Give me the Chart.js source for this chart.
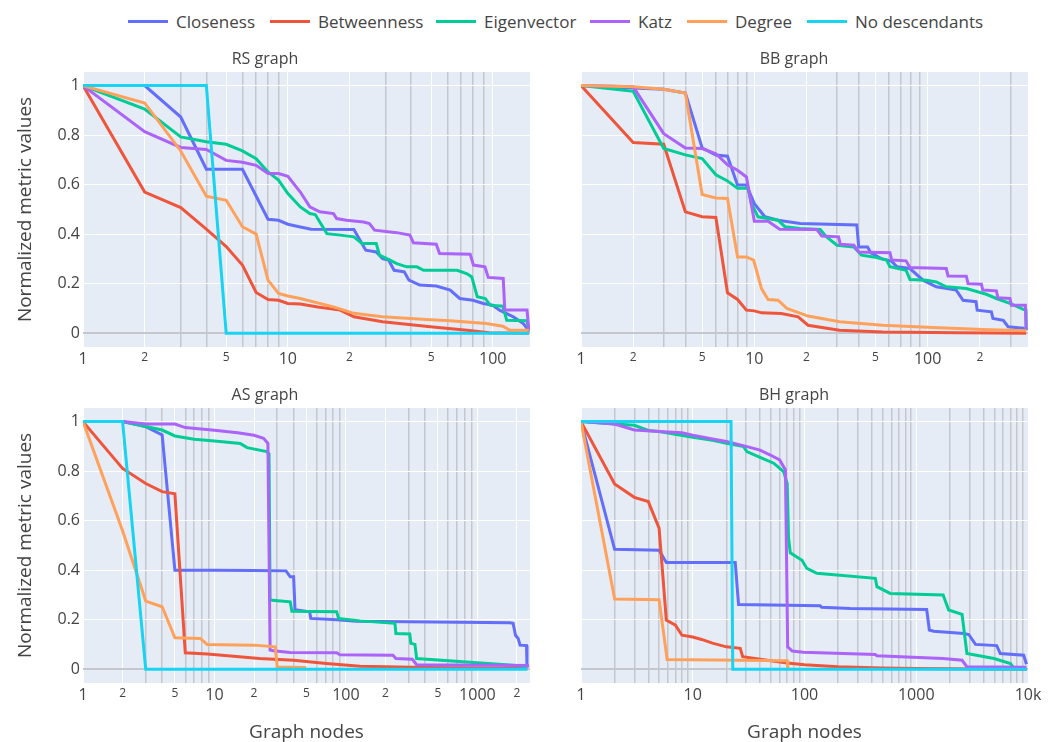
<!DOCTYPE html>
<html>
<head>
<meta charset="utf-8">
<script src="https://cdn.jsdelivr.net/npm/chart.js@4.4.1/dist/chart.umd.min.js"></script>
<style>
    body { margin: 0; background: #fff; width: 1056px; height: 742px; position: relative; overflow: hidden; font-family: "Open Sans", sans-serif; color: #444; }
    canvas { position: absolute; }
    .voce { position: absolute; top: 10px; display: flex; align-items: center; font-size: 17px; white-space: nowrap; }
    .linea { display: inline-block; width: 40px; height: 3px; margin-right: 8px; }
</style>
</head>
<body>
<div id="legenda"></div>
<canvas id="graficoRS" width="560" height="336" style="left:0;top:40px"></canvas>
<canvas id="graficoBB" width="496" height="336" style="left:560px;top:40px"></canvas>
<canvas id="graficoAS" width="560" height="366" style="left:0;top:376px"></canvas>
<canvas id="graficoBH" width="496" height="366" style="left:560px;top:376px"></canvas>
<script>
///////////////////////////////////////////////// Dati //////////////////////////////////////////////
const nomiSerie = ["Closeness", "Betweenness", "Eigenvector", "Katz", "Degree", "No descendants"];
const colori = ["#636efa", "#EF553B", "#00cc96", "#ab63fa", "#FFA15A", "#19d3f3"];

const yTickVal = [0, 0.2, 0.4, 0.6, 0.8, 1];
const yTickTesto = ["0", "0.2", "0.4", "0.6", "0.8", "1"];

// RS graph
const rsTickVal = [1, 2, 5, 10, 20, 50, 100];
const rsTickTesto = ["1", "2", "5", "10", "2", "5", "100"];
const rsCloseness = [[1,1],[2,1],[3,0.873],[4,0.662],[6,0.662],[8,0.46],[9,0.456],[10,0.44],[11.5,0.429],[13,0.42],[21,0.419],[22,0.389],[24,0.335],[27,0.328],[29,0.301],[31,0.295],[33,0.254],[37,0.248],[39,0.214],[44,0.194],[53,0.19],[62,0.174],[69,0.14],[80,0.133],[90,0.12],[100,0.113],[108,0.093],[126,0.066],[141,0.039],[147,0.019],[150,0.005]];
const rsBetweenness = [[1,1],[2,0.57],[3,0.507],[4,0.42],[5,0.35],[6,0.275],[7,0.164],[8,0.136],[9,0.133],[10,0.12],[11.5,0.118],[14,0.106],[18,0.093],[21,0.066],[29,0.046],[51,0.025],[75,0.012],[96,0.002],[150,0]];
const rsEigenvector = [[1,1],[2,0.905],[3,0.793],[4,0.773],[5,0.763],[6,0.736],[7,0.705],[8,0.651],[9,0.618],[10,0.564],[11.5,0.51],[12.8,0.483],[13.6,0.479],[15.5,0.402],[18,0.396],[21,0.389],[23,0.362],[27,0.362],[28,0.315],[31.5,0.295],[34,0.281],[38,0.268],[42.6,0.268],[46,0.254],[67,0.254],[75,0.24],[79,0.227],[84,0.147],[92,0.14],[97,0.113],[112,0.109],[117,0.052],[147,0.05],[150,0.012]];
const rsKatz = [[1,1],[2,0.814],[3,0.75],[4,0.742],[5,0.698],[6,0.69],[7,0.678],[8,0.645],[9,0.645],[10,0.634],[11.5,0.57],[12.8,0.51],[14.3,0.49],[16.7,0.483],[17.3,0.463],[19.3,0.456],[23.4,0.449],[25,0.443],[26.5,0.416],[34,0.406],[39.4,0.396],[41,0.365],[53,0.359],[55,0.322],[77.6,0.319],[80.5,0.275],[91.6,0.268],[95,0.225],[112.5,0.221],[114.5,0.093],[147,0.093],[150,0.012]];
const rsDegree = [[1,1],[2,0.93],[3,0.736],[4,0.553],[5,0.537],[6,0.43],[7,0.4],[8,0.214],[9,0.16],[10,0.15],[11.5,0.14],[16.7,0.106],[21,0.08],[29,0.066],[47.5,0.055],[62,0.05],[93,0.039],[112,0.028],[121,0.012],[150,0.012]];
const rsNoDesc = [[1,1],[2,1],[3,1],[4,1],[5,0],[150,0]];

// BB graph
const bbTickVal = [1, 2, 5, 10, 20, 50, 100, 200];
const bbTickTesto = ["1", "2", "5", "10", "2", "5", "100", "2"];
const bbCloseness = [[1,1],[2,0.99],[3,0.985],[4,0.97],[5,0.748],[6,0.72],[7,0.715],[8,0.598],[9,0.598],[10,0.523],[11.5,0.47],[13.7,0.456],[18.4,0.443],[39,0.437],[40,0.348],[45,0.348],[47,0.324],[54,0.301],[62,0.29],[66.5,0.268],[79,0.261],[94,0.214],[112,0.187],[146,0.174],[160,0.133],[190,0.127],[193,0.093],[233,0.086],[238,0.059],[273,0.052],[291,0.026],[356,0.02],[370,0.012]];
const bbBetweenness = [[1,1],[2,0.77],[3,0.763],[4,0.49],[5,0.47],[6,0.467],[7,0.163],[8,0.136],[9,0.093],[10,0.09],[11,0.082],[14.3,0.079],[17.9,0.066],[20.4,0.032],[31,0.012],[55,0.005],[150,0.002],[370,0]];
const bbEigenvector = [[1,1],[2,0.977],[3,0.746],[4,0.72],[5,0.705],[6,0.64],[7,0.615],[8,0.585],[9.2,0.585],[9.6,0.525],[10.5,0.47],[13.7,0.456],[15,0.43],[18.4,0.423],[24,0.419],[26,0.39],[30,0.355],[37.5,0.348],[41.5,0.315],[48.6,0.308],[58,0.295],[60.6,0.268],[75,0.254],[79,0.217],[98.5,0.214],[112,0.207],[128,0.187],[167,0.18],[218,0.157],[249,0.14],[298,0.12],[356,0.096],[369,0.093],[370,0.012]];
const bbKatz = [[1,1],[2,0.995],[3,0.806],[4,0.748],[5,0.746],[6,0.725],[7,0.68],[8,0.658],[9,0.631],[10,0.452],[12,0.452],[14,0.42],[22.9,0.419],[24.5,0.392],[30.6,0.389],[31.3,0.359],[37.5,0.355],[40,0.328],[60.6,0.325],[62,0.295],[75,0.292],[79,0.265],[128,0.261],[131,0.231],[167,0.23],[171,0.2],[204,0.198],[208,0.174],[249,0.171],[254,0.143],[298,0.14],[304,0.113],[366,0.113],[370,0.012]];
const bbDegree = [[1,1],[2,0.995],[3,0.985],[4,0.97],[5,0.56],[6,0.546],[7,0.544],[8,0.308],[9,0.308],[9.9,0.295],[11,0.18],[12,0.136],[13.7,0.133],[15.4,0.1],[17.5,0.086],[20.4,0.069],[31,0.046],[55,0.032],[107,0.023],[209,0.015],[370,0.01]];
const bbNoDesc = [];

// AS graph
const asTickVal = [1, 2, 5, 10, 20, 50, 100, 200, 500, 1000, 2000];
const asTickTesto = ["1", "2", "5", "10", "2", "5", "100", "2", "5", "1000", "2"];
const asCloseness = [[1,1],[2,1],[3,0.98],[4,0.946],[5,0.4],[10,0.4],[20,0.398],[35,0.397],[37.7,0.373],[40,0.373],[41,0.24],[53,0.232],[54,0.205],[85,0.2],[121,0.193],[1760,0.187],[1871,0.185],[1950,0.137],[2043,0.124],[2111,0.097],[2365,0.095],[2384,0.01]];
const asBetweenness = [[1,1],[2,0.811],[3,0.75],[4,0.717],[5,0.708],[6,0.066],[8.8,0.061],[12,0.055],[22,0.043],[40,0.036],[71,0.023],[128,0.012],[410,0.007],[2400,0.003]];
const asEigenvector = [[1,1],[2,1],[3,0.98],[4,0.966],[5,0.942],[7,0.929],[10,0.922],[15.7,0.912],[17.7,0.895],[25,0.879],[26,0.87],[26.5,0.279],[37.7,0.272],[38.8,0.234],[85,0.232],[88,0.205],[128,0.195],[236,0.185],[240,0.144],[306,0.142],[312,0.104],[335,0.1],[345,0.043],[1870,0.016],[2400,0.01]];
const asKatz = [[1,1],[2,1],[3,0.99],[4,0.99],[5,0.99],[6,0.976],[10,0.965],[15,0.955],[20,0.945],[23.6,0.933],[25.5,0.912],[26.5,0.077],[28,0.074],[37.7,0.067],[85,0.066],[90,0.058],[228,0.056],[240,0.043],[320,0.04],[345,0.018],[2400,0.015],[2410,0.007]];
const asDegree = [[1,1],[2,0.559],[3,0.275],[4,0.252],[5,0.127],[7.8,0.124],[8.8,0.1],[20,0.097],[29,0.09],[30,0.009],[50,0.007]];
const asNoDesc = [[1,1],[2,1],[3,0],[2400,0]];

// BH graph
const bhTickVal = [1, 10, 100, 1000, 10000];
const bhTickTesto = ["1", "10", "100", "1000", "10k"];
const bhCloseness = [[1,1],[2,0.484],[5,0.48],[5.8,0.431],[24,0.431],[25.7,0.261],[138,0.256],[142,0.25],[257,0.245],[1240,0.241],[1310,0.158],[1430,0.153],[2670,0.144],[2950,0.14],[3390,0.1],[5250,0.095],[5650,0.063],[9150,0.056],[9700,0.02]];
const bhBetweenness = [[1,1],[2,0.748],[3,0.694],[4,0.677],[5,0.569],[5.8,0.198],[7,0.178],[8,0.137],[10,0.13],[12,0.12],[15,0.105],[20,0.09],[26.6,0.084],[28,0.05],[40,0.04],[70,0.025],[100,0.018],[200,0.01],[500,0.005],[1000,0.003],[9700,0]];
const bhEigenvector = [[1,1],[2,0.99],[3,0.985],[4,0.964],[5,0.96],[10,0.937],[15,0.925],[20,0.912],[28.5,0.899],[30.5,0.879],[40,0.856],[53,0.832],[65,0.798],[70,0.75],[72,0.53],[74.6,0.47],[95,0.44],[105,0.407],[129,0.387],[430,0.367],[445,0.333],[585,0.306],[1740,0.3],[1950,0.239],[2570,0.221],[2840,0.063],[4960,0.043],[6960,0.023],[7450,0.005],[9700,0]];
const bhKatz = [[1,1],[2,0.99],[3,0.966],[5,0.96],[8,0.955],[10,0.945],[15,0.93],[20,0.92],[30,0.9],[40,0.885],[49.5,0.865],[60,0.845],[67.5,0.805],[70.7,0.09],[77.7,0.073],[97.5,0.068],[430,0.059],[445,0.054],[1740,0.043],[2570,0.036],[2840,0.01],[9700,0.008]];
const bhDegree = [[1,1],[2,0.283],[5,0.28],[5.9,0.039],[70,0.034],[71,0]];
const bhNoDesc = [[1,1],[22,1],[22.8,0],[9700,0]];


///////////////////////////////////////////////// Stile comune //////////////////////////////////////////////
const font = '"Open Sans", sans-serif';
const coloreTesto = "#444";
const grigliaGrigia = "#c6c6ce";
Chart.defaults.font.family = font;
Chart.defaults.color = coloreTesto;

const posLegenda = [128, 270, 436, 590, 687, 807];
const legenda = document.getElementById("legenda");
nomiSerie.forEach((nome, i) => {
    const voce = document.createElement("div");
    voce.className = "voce";
    voce.style.left = posLegenda[i] + "px";
    voce.innerHTML = `<span class="linea" style="background:${colori[i]}"></span>${nome}`;
    legenda.appendChild(voce);
});

const sfondoArea = {
    id: "sfondoArea",
    beforeDraw(chart) {
        const { ctx, chartArea: a } = chart;
        ctx.save();
        ctx.fillStyle = "#E5ECF6";
        ctx.fillRect(a.left, a.top, a.width, a.height);
        ctx.restore();
    }
};

const potenzaDi10 = (v) => Math.abs(Math.log10(v) - Math.round(Math.log10(v))) < 1e-9;


///////////////////////////////////////// GRAFICO LOG ////////////////////////////////////////
const creaGrafico = function (idCanvas, g) {
    const datasets = [];
    g.serie.forEach((punti, i) => {
        if (punti.length === 0) return;
        datasets.push({
            label: nomiSerie[i],
            data: punti.map(p => ({ x: p[0], y: p[1] })),
            borderColor: colori[i],
            borderWidth: 3,
            pointRadius: 0,
            tension: 0,
            fill: false,
            order: nomiSerie.length - i,
        });
    });

    new Chart(document.getElementById(idCanvas), {
        type: "line",
        data: { datasets: datasets },
        options: {
            responsive: false,
            animation: false,
            events: [],
            layout: { padding: { left: 0, right: g.sinistra ? 30 : 28, top: 0, bottom: 0 } },
            plugins: {
                legend: { display: false },
                tooltip: { enabled: false },
                title: {
                    display: true,
                    text: g.titolo,
                    color: coloreTesto,
                    font: { family: font, size: 16, weight: "normal" },
                    padding: { top: 10, bottom: 2.8 },
                },
            },
            scales: {
                x: {
                    type: "logarithmic",
                    min: 1,
                    max: g.xMax,
                    afterBuildTicks: (scala) => {
                        const tick = [];
                        for (let dec = 1; dec <= scala.max; dec *= 10) {
                            for (let m = 1; m <= 9; m++) {
                                const v = m * dec;
                                if (v >= scala.min && v <= scala.max) tick.push({ value: v });
                            }
                        }
                        scala.ticks = tick;
                    },
                    afterFit: (scala) => { scala.height = g.basso ? 59 : 29; },
                    border: { display: false },
                    grid: {
                        drawTicks: false,
                        lineWidth: (ctx) => g.tickVal.includes(ctx.tick.value) ? 1 : 1.5,
                        color: (ctx) => g.tickVal.includes(ctx.tick.value) ? "#ffffff" : grigliaGrigia,
                    },
                    ticks: {
                        autoSkip: false,
                        maxRotation: 0,
                        minRotation: 0,
                        padding: 3,
                        color: coloreTesto,
                        font: (ctx) => ({ family: font, size: ctx.tick && potenzaDi10(ctx.tick.value) ? 16 : 12 }),
                        callback: (v) => {
                            const k = g.tickVal.indexOf(v);
                            return k >= 0 ? g.tickTesto[k] : "";
                        },
                    },
                    title: {
                        display: g.basso,
                        text: "Graph nodes",
                        color: coloreTesto,
                        font: { family: font, size: 19 },
                        padding: { top: 0, bottom: -2 },
                    },
                },
                y: {
                    min: -0.056,
                    max: 1.055,
                    afterBuildTicks: (scala) => { scala.ticks = yTickVal.map(v => ({ value: v })); },
                    afterFit: (scala) => { scala.width = g.sinistra ? 83 : 21; },
                    border: { display: false },
                    grid: {
                        drawTicks: false,
                        color: (ctx) => ctx.tick.value === 0 ? grigliaGrigia : "#ffffff",
                        lineWidth: (ctx) => ctx.tick.value === 0 ? 2 : 1,
                    },
                    ticks: {
                        display: g.sinistra,
                        padding: 3,
                        color: coloreTesto,
                        font: { family: font, size: 16 },
                        callback: (v) => {
                            const k = yTickVal.indexOf(v);
                            return k >= 0 ? yTickTesto[k] : "";
                        },
                    },
                    title: {
                        display: g.sinistra,
                        text: "Normalized metric values",
                        color: coloreTesto,
                        font: { family: font, size: 19 },
                        padding: { top: 14, bottom: 0 },
                    },
                },
            },
        },
        plugins: [sfondoArea],
    });
};

creaGrafico("graficoRS", { titolo: "RS graph", xMax: 152, tickVal: rsTickVal, tickTesto: rsTickTesto, sinistra: true, basso: false,
    serie: [rsCloseness, rsBetweenness, rsEigenvector, rsKatz, rsDegree, rsNoDesc] });
creaGrafico("graficoBB", { titolo: "BB graph", xMax: 379, tickVal: bbTickVal, tickTesto: bbTickTesto, sinistra: false, basso: false,
    serie: [bbCloseness, bbBetweenness, bbEigenvector, bbKatz, bbDegree, bbNoDesc] });
creaGrafico("graficoAS", { titolo: "AS graph", xMax: 2513, tickVal: asTickVal, tickTesto: asTickTesto, sinistra: true, basso: true,
    serie: [asCloseness, asBetweenness, asEigenvector, asKatz, asDegree, asNoDesc] });
creaGrafico("graficoBH", { titolo: "BH graph", xMax: 10000, tickVal: bhTickVal, tickTesto: bhTickTesto, sinistra: false, basso: true,
    serie: [bhCloseness, bhBetweenness, bhEigenvector, bhKatz, bhDegree, bhNoDesc] });
</script>
</body>
</html>
